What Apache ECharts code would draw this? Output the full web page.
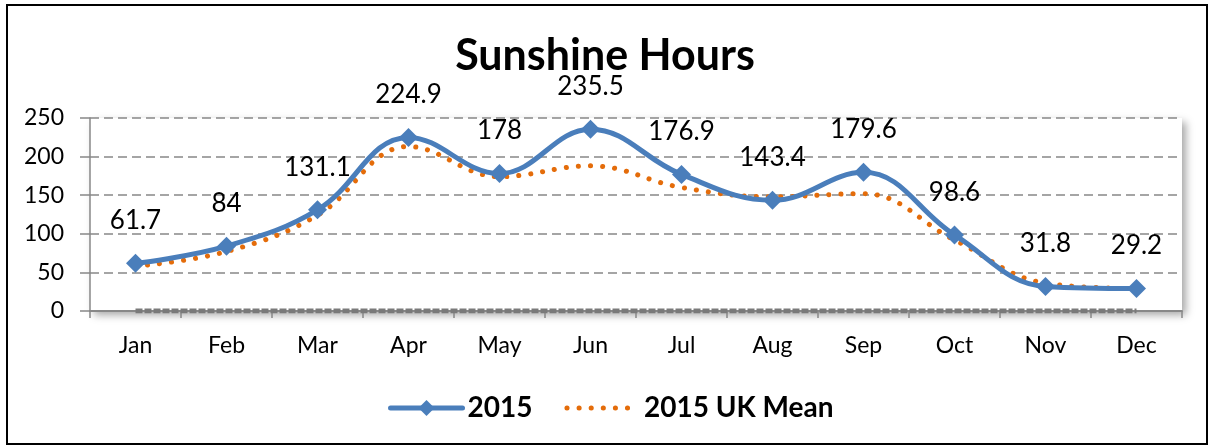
<!DOCTYPE html>
<html>
<head>
<meta charset="utf-8">
<script src="https://cdn.jsdelivr.net/npm/echarts@6/dist/echarts.min.js"></script>
<style>
html,body{margin:0;padding:0;background:#fff;}
#chart{width:1210px;height:448px;}
</style>
</head>
<body>
<div id="chart"></div>
<script>
const months = ['Jan','Feb','Mar','Apr','May','Jun','Jul','Aug','Sep','Oct','Nov','Dec'];
const sun2015 = [61.7,84,131.1,224.9,178,235.5,176.9,143.4,179.6,98.6,31.8,29.2];
const ukMean = [58,77,124,213,174,188,160,148,152,92,36,29];
const baseline = [0,0,0,0,0,0,0,0,0,0,0,0];
const yTicks = [0,50,100,150,200,250];

const FONT = 'Lato';
const BLUE = '#4A7EBB';
const ORANGE = '#E46C0A';
const chart = echarts.init(document.getElementById('chart'), null, {renderer:'canvas'});
chart.setOption({
  backgroundColor:'#fff',
  animation:false,
  title:{
    text:'Sunshine Hours', left:'center', top:30,
    textStyle:{fontFamily:FONT, fontSize:43, fontWeight:'bold', color:'#000'}
  },
  graphic:[{
    type:'rect', shape:{x:7,y:5,width:1200,height:439}, silent:true, z:-10,
    style:{fill:'none', stroke:'#000', lineWidth:2}
  }],
  legend:{
    data:[
      {name:'2015', lineStyle:{width:5, cap:'round'}},
      {name:'2015 UK Mean', itemStyle:{opacity:0}, lineStyle:{width:5, type:[0.1,12], cap:'round'}}
    ],
    left:383, top:389,
    itemWidth:72, itemHeight:20, itemGap:32,
    textStyle:{fontFamily:FONT, fontSize:28, fontWeight:'bold', color:'#000'}
  },
  grid:{
    left:90, right:28, top:118, bottom:137, show:true, backgroundColor:'#fff', borderWidth:0,
    shadowBlur:8, shadowColor:'rgba(0,0,0,0.35)', shadowOffsetX:4, shadowOffsetY:4
  },
  xAxis:{
    type:'category', data:months, boundaryGap:true,
    axisLine:{lineStyle:{color:'#888', width:2}},
    axisTick:{show:true, length:7, lineStyle:{color:'#888', width:1.5}},
    axisLabel:{fontFamily:FONT, fontSize:23, color:'#000', margin:23}
  },
  yAxis:{
    type:'value', min:yTicks[0], max:yTicks[yTicks.length-1], interval:50,
    axisLine:{show:true, lineStyle:{color:'#888', width:1.5}},
    axisTick:{show:true, length:10, lineStyle:{color:'#888', width:1.5}},
    axisLabel:{fontFamily:FONT, fontSize:23, color:'#000', margin:26},
    splitLine:{show:true, lineStyle:{color:'#888', width:1.5, type:[9,5]}}
  },
  series:[
    {
      name:'baseline', type:'line', data:baseline, symbol:'none', silent:true,
      lineStyle:{color:'#7a7a7a', width:5, type:[7,2]}, z:5
    },
    {
      name:'2015 UK Mean', type:'line', data:ukMean, smooth:0.4, symbol:'none',
      lineStyle:{color:ORANGE, width:5, type:[0.1,12], cap:'round'},
      itemStyle:{color:ORANGE}, z:3
    },
    {
      name:'2015', type:'line', data:sun2015, smooth:0.4,
      symbol:'diamond', symbolSize:19,
      lineStyle:{color:BLUE, width:5},
      itemStyle:{color:BLUE},
      label:{show:true, position:'top', distance:20, fontFamily:FONT, fontSize:26, color:'#000'},
      z:4
    }
  ]
});
</script>
</body>
</html>
